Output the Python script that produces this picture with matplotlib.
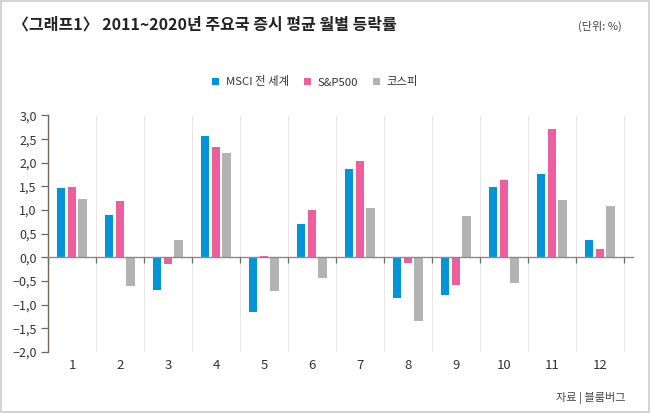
import matplotlib
matplotlib.use("Agg")
import matplotlib.pyplot as plt
import matplotlib.transforms as mtransforms
from matplotlib.patches import Rectangle
import numpy as np

plt.rcParams['font.family'] = ['Noto Sans CJK KR', 'DejaVu Sans']

months = [1, 2, 3, 4, 5, 6, 7, 8, 9, 10, 11, 12]
msci = [1.47, 0.90, -0.69, 2.57, -1.15, 0.71, 1.86, -0.86, -0.79, 1.49, 1.77, 0.37]
sp500 = [1.49, 1.20, -0.13, 2.33, 0.04, 1.01, 2.03, -0.12, -0.59, 1.64, 2.71, 0.18]
kospi = [1.24, -0.60, 0.37, 2.21, -0.72, -0.43, 1.04, -1.35, 0.88, -0.54, 1.22, 1.09]
series_names = ['MSCI 전 세계', 'S&P500', '코스피']
yticks = [3.0, 2.5, 2.0, 1.5, 1.0, 0.5, 0.0, -0.5, -1.0, -1.5, -2.0]

title = '〈그래프1〉 2011~2020년 주요국 증시 평균 월별 등락률'
unit = '(단위: %)'
source = '자료 | 블룸버그'

colors = ['#0094DB', '#EC5F9E', '#B3B3B3']

fig = plt.figure(figsize=(6.5, 4.13), dpi=100)
ax = fig.add_axes([48/650, 1-352/413, (633-48)/650, (352-115.5)/413])

x = np.array(months, dtype=float)
w = 0.175
offs = [-0.223, 0.0, 0.223]
handles = []
for vals, c, o, name in zip([msci, sp500, kospi], colors, offs, series_names):
    h = ax.bar(x + o, vals, width=w, color=c, label=name, zorder=3)
    handles.append(h)

ax.set_ylim(-2.0, 3.0)
ax.set_xlim(0.5, 12.69)

# vertical grid at category boundaries
bounds = np.arange(0.5, 13.0, 1.0)
for b in bounds:
    ax.axvline(b, color='#e6e6e6', lw=0.8, zorder=1)

for s in ['top', 'right']:
    ax.spines[s].set_visible(False)
ax.spines['left'].set_color('#6f6862')
ax.spines['left'].set_linewidth(1.0)
ax.spines['bottom'].set_position(('data', 0))
ax.spines['bottom'].set_color('#8a8a8a')
ax.spines['bottom'].set_linewidth(1.0)
ax.spines['bottom'].set_zorder(4)

ax.set_xticks(bounds)
ax.set_xticklabels([])
ax.tick_params(axis='x', direction='out', length=4, color='#6f6862', width=0.9)

ax.set_yticks(yticks)
ax.set_yticklabels([f'{v:.1f}'.replace('.', ',').replace('-', '−') for v in yticks],
                   fontsize=9, color='#333333')
ax.tick_params(axis='y', direction='out', length=5, color='#6f6862', width=0.9, pad=3)

trans = mtransforms.blended_transform_factory(ax.transData, ax.transAxes)
for m in months:
    ax.annotate(str(m), xy=(m, 0), xycoords=trans, xytext=(0, -10),
                textcoords='offset points', ha='center', va='center',
                fontsize=9.5, color='#333333')

fig.text(13/650, 1-25/413, title, fontsize=11.5, fontweight='bold',
         color='#222222', ha='left', va='center')
fig.text(622/650, 1-26/413, unit, fontsize=8, color='#444444',
         ha='right', va='center')
fig.text(625/650, 1-398/413, source, fontsize=8, color='#444444',
         ha='right', va='center')

fig.legend(handles=handles, labels=series_names, loc='center',
           bbox_to_anchor=(315/650, 1-82/413), ncol=3, frameon=False,
           fontsize=8.2, handlelength=0.6, handleheight=0.6,
           handletextpad=0.6, columnspacing=1.3, labelcolor='#333333')

fig.patches.append(Rectangle((0.0015, 0.002), 0.997, 0.996, transform=fig.transFigure,
                             fill=False, edgecolor='#d4d4d4', lw=1.5))

fig.savefig('out.png', dpi=100, facecolor='white')
